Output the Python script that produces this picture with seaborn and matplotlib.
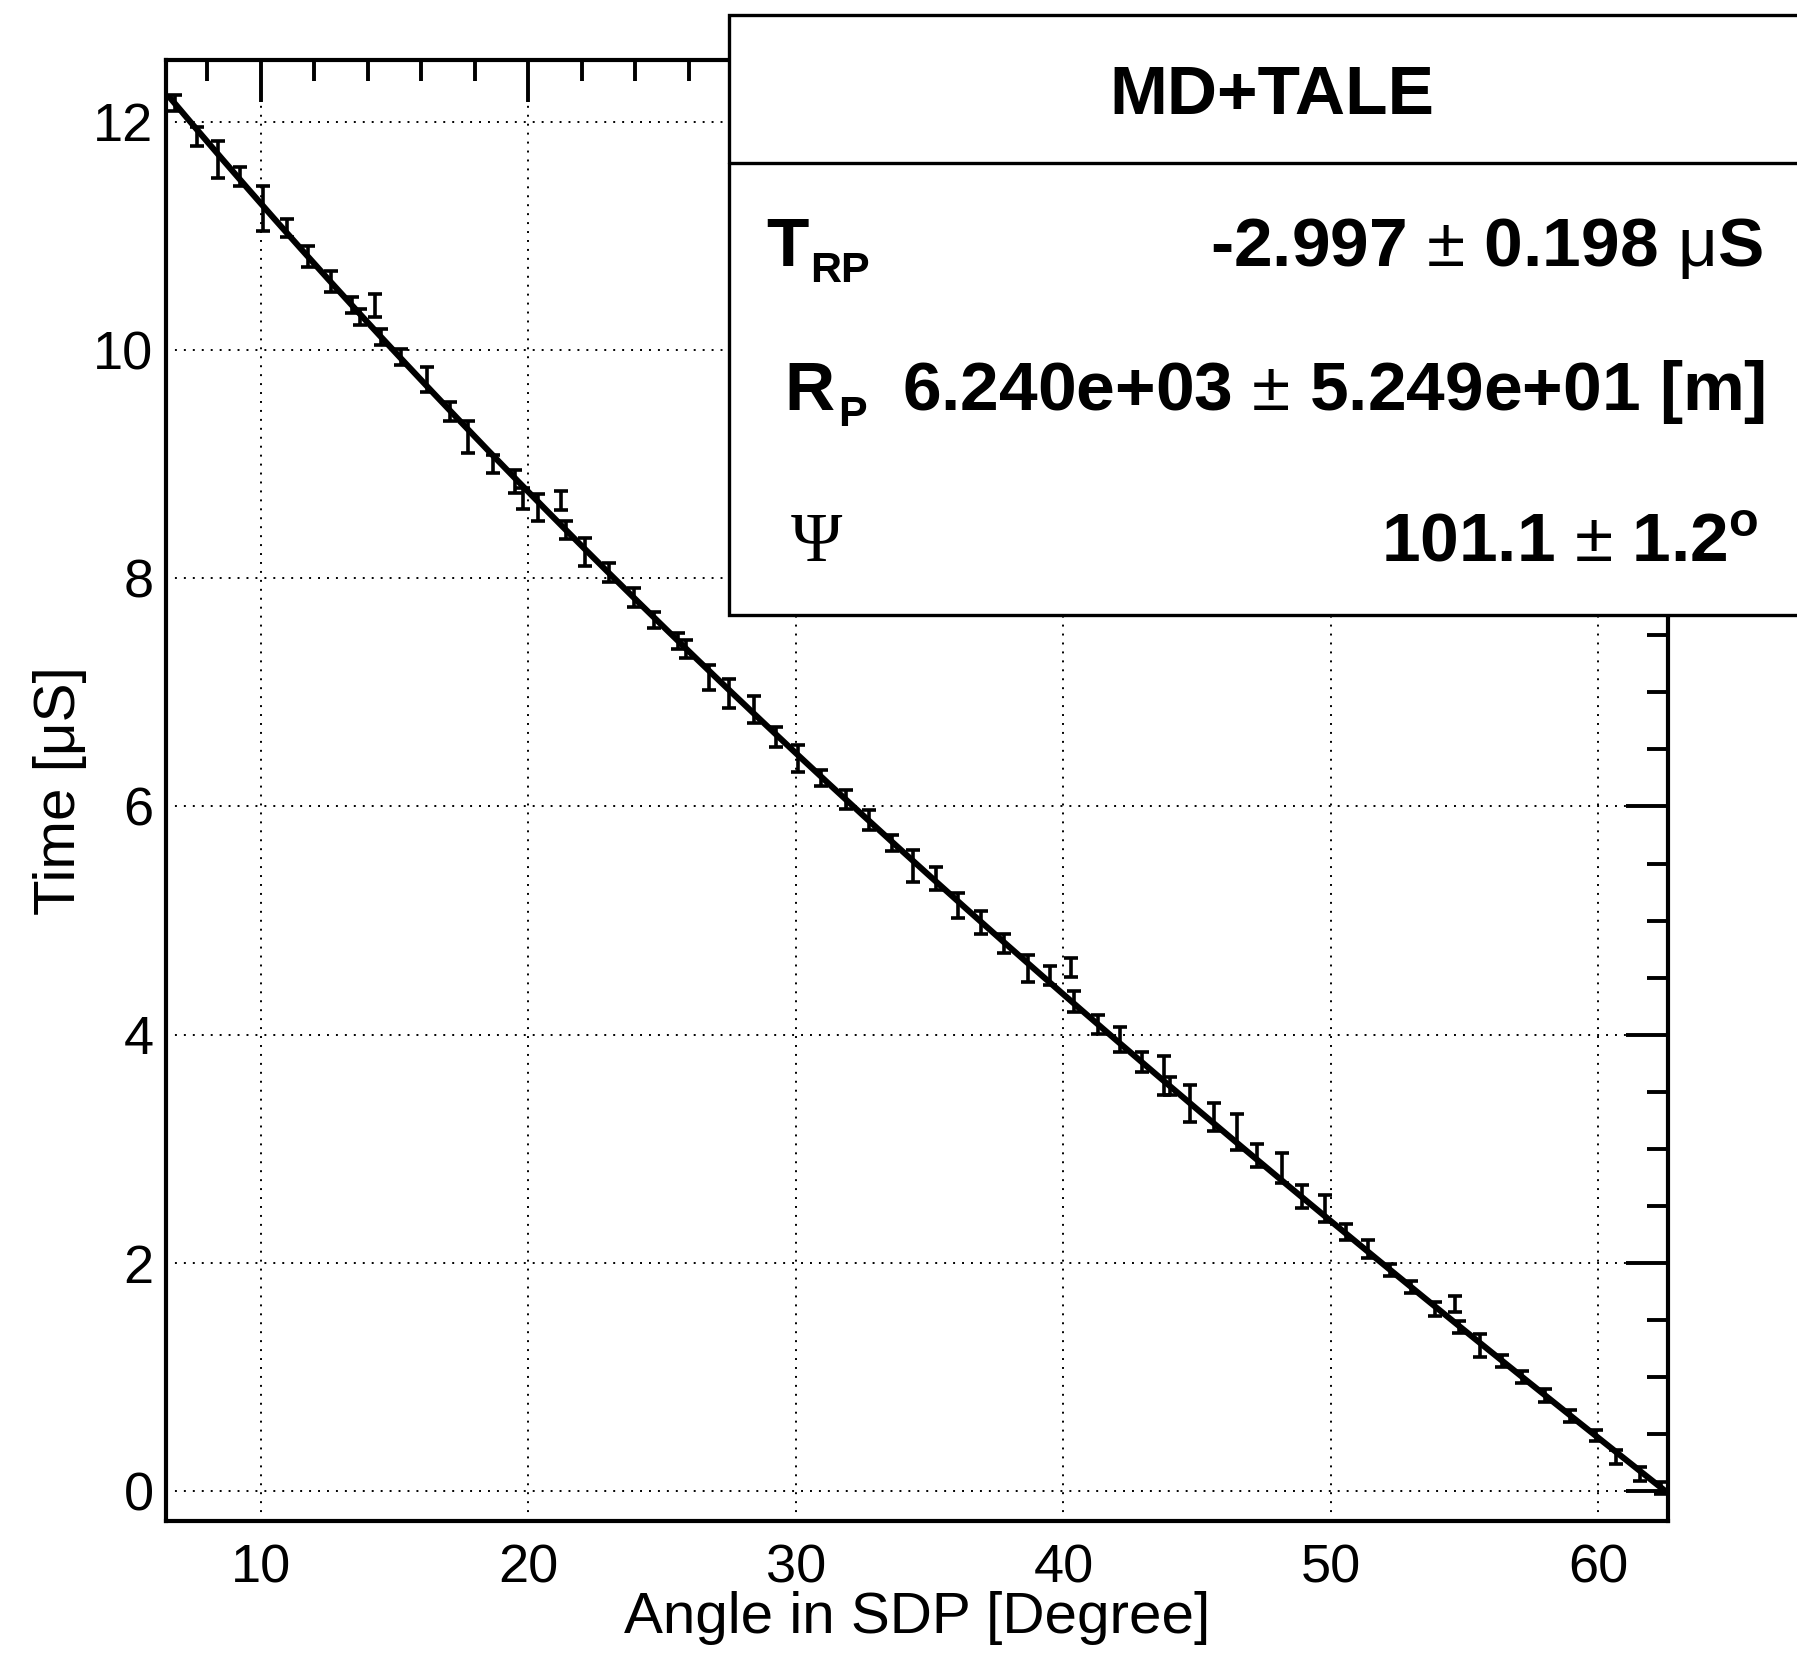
import numpy as np
import pandas as pd
import matplotlib
matplotlib.use("Agg")
import matplotlib.pyplot as plt
import seaborn as sns
from matplotlib.patches import Rectangle
from matplotlib.lines import Line2D
from matplotlib.ticker import MultipleLocator

# Measured pulse times along the shower-detector plane
angle_deg = [6.78, 7.60, 8.39, 9.20, 10.08, 10.97, 11.77, 12.60, 13.40, 13.70,
             14.27, 14.50, 15.25, 16.20, 17.08, 17.75, 18.69, 19.50, 19.80, 20.37,
             21.20, 21.39, 22.13, 23.00, 23.93, 24.68, 25.60, 25.90, 26.74, 27.49,
             28.43, 29.25, 30.07, 30.94, 31.87, 32.72, 33.60, 34.38, 35.24, 36.07,
             36.93, 37.79, 38.69, 39.48, 40.30, 40.41, 41.31, 42.13, 42.92, 43.75,
             43.97, 44.72, 45.62, 46.48, 47.23, 48.16, 48.90, 49.78, 50.55, 51.40,
             52.20, 53.00, 53.90, 54.64, 54.80, 55.58, 56.40, 57.15, 58.00, 58.95,
             59.89, 60.64, 61.57, 62.32]
time_us = [12.16, 11.87, 11.67, 11.52, 11.24, 11.07, 10.82, 10.60, 10.39, 10.29,
           10.39, 10.11, 9.94, 9.74, 9.46, 9.24, 9.00, 8.85, 8.70, 8.62,
           8.68, 8.42, 8.23, 8.05, 7.83, 7.63, 7.45, 7.38, 7.13, 6.99,
           6.85, 6.61, 6.42, 6.25, 6.06, 5.88, 5.68, 5.48, 5.37, 5.13,
           4.98, 4.80, 4.58, 4.52, 4.59, 4.29, 4.09, 3.96, 3.76, 3.64,
           3.55, 3.40, 3.28, 3.15, 2.94, 2.83, 2.58, 2.48, 2.27, 2.12,
           1.94, 1.79, 1.60, 1.64, 1.44, 1.28, 1.14, 1.00, 0.84, 0.66,
           0.49, 0.30, 0.15, 0.03]
time_err = [0.07, 0.08, 0.16, 0.08, 0.20, 0.08, 0.09, 0.09, 0.07, 0.07,
            0.10, 0.07, 0.07, 0.11, 0.08, 0.14, 0.08, 0.10, 0.09, 0.12,
            0.08, 0.08, 0.12, 0.08, 0.08, 0.07, 0.07, 0.08, 0.11, 0.13,
            0.12, 0.09, 0.12, 0.07, 0.08, 0.09, 0.07, 0.14, 0.10, 0.11,
            0.10, 0.08, 0.12, 0.08, 0.08, 0.09, 0.08, 0.11, 0.09, 0.17,
            0.08, 0.16, 0.12, 0.16, 0.10, 0.13, 0.10, 0.12, 0.07, 0.08,
            0.05, 0.05, 0.06, 0.07, 0.05, 0.10, 0.05, 0.05, 0.06, 0.05,
            0.05, 0.06, 0.06, 0.05]

# Geometry fit results
t_rp_us = -2.997
t_rp_err = 0.198
r_p_m = 6.240e3
r_p_err = 5.249e1
psi_deg = 101.1
psi_err = 1.2
c_m_per_us = 299.792458

sns.set_theme(style="white")
plt.rcParams["font.family"] = ["Liberation Sans", "DejaVu Sans"]
plt.rcParams.update({
    "mathtext.fontset": "custom",
    "mathtext.rm": "Liberation Sans",
    "mathtext.bf": "Liberation Sans:bold",
    "mathtext.it": "Liberation Sans:italic",
    "text.color": "black",
    "axes.labelcolor": "black",
})

W, H = 1797, 1654
fig = plt.figure(figsize=(W / 100, H / 100), dpi=100)
fig.patch.set_facecolor("white")
ax = fig.add_axes([166 / W, 1 - 1521 / H, (1668 - 166) / W, (1521 - 60) / H])

df = pd.DataFrame({"angle": angle_deg, "time": time_us, "err": time_err})
ax.errorbar(df["angle"], df["time"], yerr=df["err"], fmt="none",
            ecolor="black", elinewidth=2.6, capsize=4.8, capthick=2.6, zorder=3)

# Fitted time profile t = T_RP + R_P/c * tan((pi - psi - chi)/2)
chi = np.linspace(6.6, 62.45, 400)
fit = t_rp_us + (r_p_m / c_m_per_us) * np.tan(np.radians(180.0 - psi_deg - chi) / 2.0)
sns.lineplot(x=chi, y=fit, color="black", lw=4.4, ax=ax, zorder=4)

ax.set_xlim(6.45, 62.6)
ax.set_ylim(-0.26, 12.54)
ax.xaxis.set_major_locator(MultipleLocator(10))
ax.xaxis.set_minor_locator(MultipleLocator(2))
ax.yaxis.set_major_locator(MultipleLocator(2))
ax.yaxis.set_minor_locator(MultipleLocator(0.5))
ax.tick_params(which="both", direction="in", top=True, right=True,
               width=2.8, color="black", labelcolor="black")
ax.tick_params(which="major", length=30, labelsize=39)
ax.tick_params(which="minor", length=15)
ax.tick_params(axis="x", pad=16)
ax.tick_params(axis="y", pad=9)

ax.grid(True, which="major", color="black", linestyle=(0, (1, 3.6)), linewidth=1.4)
for s in ax.spines.values():
    s.set_visible(True)
    s.set_color("black")
    s.set_linewidth(3.0)

ax.set_xlabel("Angle in SDP [Degree]", fontsize=42, va="center")
ax.xaxis.set_label_coords(0.5, -0.0664)
ax.set_ylabel("Time [\u03bcS]", fontsize=42, va="center")
ax.yaxis.set_label_coords(-0.0706, 0.5)

# Fit-result box
x0 = 729 / W
box = Rectangle((x0, 1 - 615 / H), 1.02 - x0, 600 / H, transform=fig.transFigure,
                facecolor="white", edgecolor="black", linewidth=2.4, zorder=5)
fig.add_artist(box)
fig.add_artist(Line2D([x0, 1.0], [1 - 163 / H, 1 - 163 / H], transform=fig.transFigure,
                      color="black", linewidth=2.4, zorder=6))

fs = 50
fss = 31
bold = dict(fontweight="bold", zorder=7, va="baseline")
fig.text(1272 / W, 1 - 114 / H, "MD+TALE", ha="center", fontsize=fs, **bold)

fig.text(766 / W, 1 - 266 / H, "T", ha="left", fontsize=fs, **bold)
fig.text(810 / W, 1 - 282 / H, "RP", ha="left", fontsize=fss, **bold)
fig.text(1763 / W, 1 - 266 / H,
         f"{t_rp_us:.3f} " + r"$\pm$" + f" {t_rp_err:.3f} " + r"$\mathrm{\mu}$" + "S",
         ha="right", fontsize=fs, **bold)

fig.text(784 / W, 1 - 410 / H, "R", ha="left", fontsize=fs, **bold)
fig.text(838 / W, 1 - 426 / H, "P", ha="left", fontsize=fss, **bold)
fig.text(1765 / W, 1 - 410 / H,
         f"{r_p_m:.3e} " + r"$\pm$" + f" {r_p_err:.3e} [m]",
         ha="right", fontsize=fs, **bold)

fig.text(791 / W, 1 - 561 / H, "\u03a8", ha="left", va="baseline",
         fontsize=fs, family=["Liberation Serif", "DejaVu Serif"], zorder=7)
fig.text(1759 / W, 1 - 561 / H,
         f"{psi_deg:.1f} " + r"$\pm$" + f" {psi_err:.1f}" + r"$^{\mathbf{o}}$",
         ha="right", fontsize=fs, **bold)

fig.savefig("out.png", dpi=100, facecolor="white")
